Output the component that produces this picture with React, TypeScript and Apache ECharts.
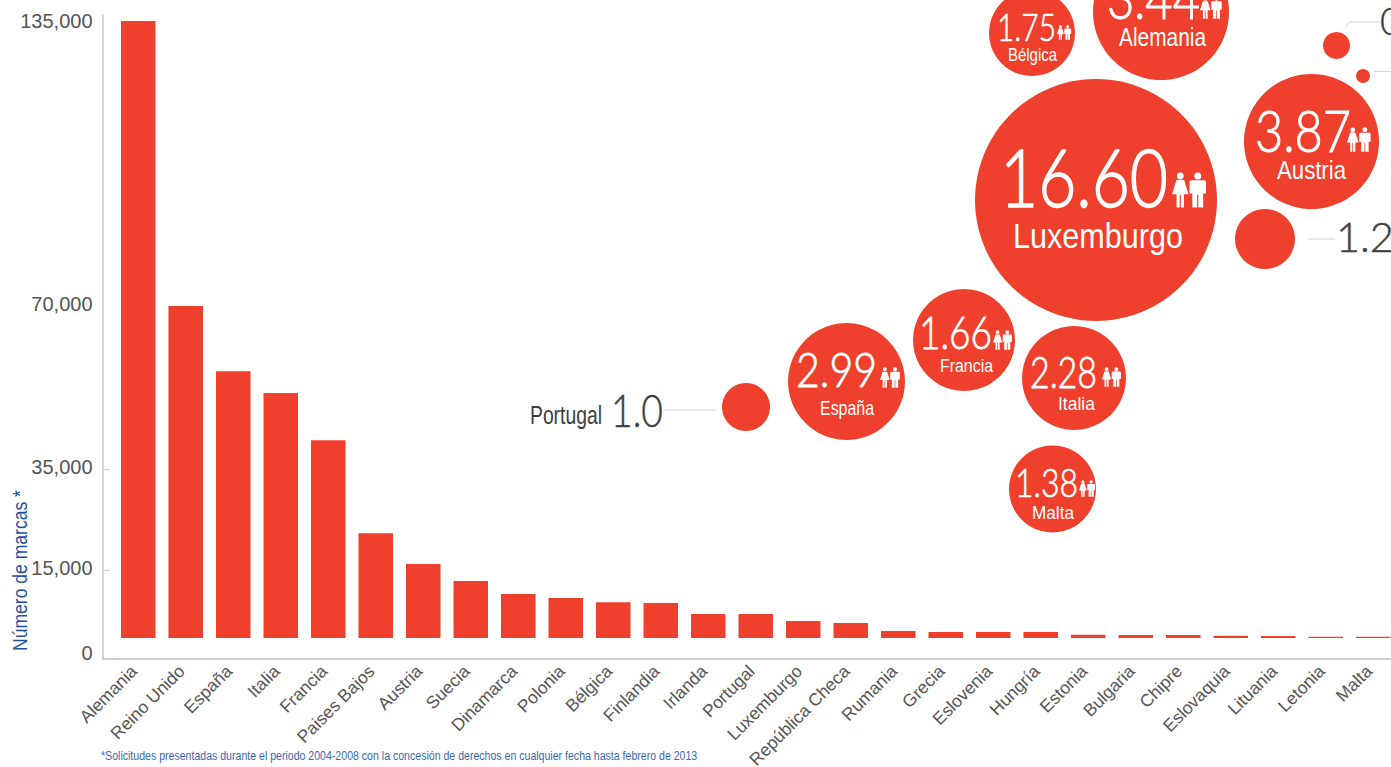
import React, { useEffect, useRef } from "react";
import * as echarts from "echarts";

const categories = ["Alemania","Reino Unido","España","Italia","Francia","Paises Bajos","Austria","Suecia","Dinamarca","Polonia","Bélgica","Finlandia","Irlanda","Portugal","Luxemburgo","República Checa","Rumania","Grecia","Eslovenia","Hungría","Estonia","Bulgaria","Chipre","Eslovaquia","Lituania","Letonia","Malta"];
const marcas = [135000,70000,56000,51300,41200,22300,16200,12600,9700,8800,7900,7700,5300,5300,3750,3300,1540,1300,1300,1300,700,650,650,500,450,300,300];

// The source's vertical axis is not linear: its ticks are unevenly spaced.
const tickValues = [0,15000,35000,70000,135000];
const tickLabels = ["0","15,000","35,000","70,000","135,000"];
const tickHeights = [0,68,169,332,617];
const labelHeights = [-15,70,171,334,617];

const bubbleNames = ["Luxemburgo","Austria","Bélgica","Alemania","España","Francia","Italia","Malta"];
const bubbleValues = ["16.60","3.87","1.75","3.44","2.99","1.66","2.28","1.38"];
const bubbleX = [1096,1311.5,1032,1161,846.5,964,1074,1052.5];
const bubbleY = [200,141.5,33,12,381.5,340,378,489];
const bubbleSize = [242,135,86,136,117,102,104,87];

const plainX = [746,1265,1336.5,1363];
const plainY = [407,239,45.5,76];
const plainSize = [48,60,27,14];

const RED = "#EE402C";
const SANS = "'Liberation Sans',Arial,sans-serif";
const LIGHT = "Lato,'Open Sans',sans-serif";

// Text layout inside each labelled bubble (page px)
const numLayout = [
  { x:1084, y:179, cap:58, w:168 },{ x:1303, y:132.5, cap:41, w:96 },{ x:1026.5, y:27.5, cap:27, w:59 },
  { x:1153.5, y:-1, cap:40, w:93 },{ x:836.5, y:370.5, cap:34, w:81 },{ x:955.5, y:334, cap:32, w:73 },
  { x:1063.5, y:372.5, cap:31, w:67 },{ x:1046.5, y:484, cap:28, w:63 },
];
const nameLayout = [
  { x:1098, y:236, f:36, w:170 },{ x:1311.5, y:171, f:25, w:69 },{ x:1032.5, y:55, f:18, w:49 },
  { x:1162.5, y:37.5, f:25, w:87 },{ x:847, y:408, f:20, w:54 },{ x:966.5, y:365, f:19, w:53 },
  { x:1076.5, y:403, f:19, w:37 },{ x:1053, y:513, f:19, w:42 },
];
const iconLayout = [
  { x:1172, y:172, h:36 },{ x:1347, y:127, h:25 },{ x:1057, y:25, h:15 },{ x:1200, y:-4, h:23 },
  { x:880, y:367, h:21 },{ x:993, y:330, h:20 },{ x:1102, y:367, h:20 },{ x:1079, y:480, h:17 },
];

const PEOPLE = "M4.5 3.6a3.5 3.5 0 1 0 7 0a3.5 3.5 0 1 0 -7 0Z M4 7.8H12L16.5 22.5H11.8V36H8.6V23H7.4V36H4.2V22.5H-0.5Z M22.4 3.6a3.6 3.6 0 1 0 7.2 0a3.6 3.6 0 1 0 -7.2 0Z M19.5 8H32.5Q34.5 8 34.5 10V21.5H31.6V36H26.6V23H25.4V36H20.4V21.5H17.5V10Q17.5 8 19.5 8Z";

function warp(v: number): number {
  for (let i = 1; i < tickValues.length; i++) {
    if (v <= tickValues[i]) {
      const t = (v - tickValues[i - 1]) / (tickValues[i] - tickValues[i - 1]);
      return tickHeights[i - 1] + t * (tickHeights[i] - tickHeights[i - 1]);
    }
  }
  return tickHeights[tickHeights.length - 1];
}

const measureCtx = document.createElement("canvas").getContext("2d")!;
function fit(text: string, font: string, target: number): number {
  measureCtx.font = font;
  return target / measureCtx.measureText(text).width;
}

export default function App() {
  const ref = useRef<HTMLDivElement>(null);
  useEffect(() => {
    document.body.style.margin = "0";
    document.body.style.background = "#fff";
    document.body.style.overflow = "hidden";
    const chart = echarts.init(ref.current!, undefined, { renderer: "svg" });

    const renderBubble = (params: any, api: any) => {
      const i = params.dataIndex;
      const c = api.coord([api.value(0), api.value(1)]);
      const n = numLayout[i];
      const nm = nameLayout[i];
      const ic = iconLayout[i];
      const numFs = n.cap / 0.72;
      const numFont = `300 ${numFs}px Lato`;
      const nameFont = `${nm.f}px 'Liberation Sans'`;
      const np = api.coord([n.x, n.y - n.cap * 0.05]);
      const tp = api.coord([nm.x, nm.y]);
      const ip = api.coord([ic.x, ic.y]);
      return {
        type: "group",
        children: [
          { type: "circle", shape: { cx: c[0], cy: c[1], r: api.value(2) / 2 }, style: { fill: RED } },
          {
            type: "text", x: np[0], y: np[1], scaleX: fit(bubbleValues[i], numFont, n.w),
            style: { text: bubbleValues[i], x: 0, y: 0, align: "center", verticalAlign: "middle", fontSize: numFs, fontFamily: LIGHT, fontWeight: 300, fill: "#fff", stroke: "#fff", lineWidth: n.cap * 0.025 },
          },
          {
            type: "text", x: tp[0], y: tp[1], scaleX: fit(bubbleNames[i], nameFont, nm.w),
            style: { text: bubbleNames[i], x: 0, y: 0, align: "center", verticalAlign: "middle", fontSize: nm.f, fontFamily: SANS, fill: "#fff" },
          },
          {
            type: "path",
            shape: { pathData: PEOPLE, x: ip[0], y: ip[1], width: (ic.h * 34) / 36, height: ic.h },
            style: { fill: "#fff" },
          },
        ],
      };
    };

    const renderPlain = (_: any, api: any) => {
      const c = api.coord([api.value(0), api.value(1)]);
      return { type: "circle", shape: { cx: c[0], cy: c[1], r: api.value(2) / 2 }, style: { fill: RED } };
    };

    const bigNum = (text: string, x: number, y: number, cap: number, w: number) => ({
      type: "text", x, y, scaleX: fit(text, `300 ${cap / 0.72}px Lato`, w), silent: true,
      style: { text, x: 0, y: 0, align: "left", verticalAlign: "middle", fontSize: cap / 0.72, fontFamily: LIGHT, fontWeight: 300, fill: "#3d3f42", stroke: "#3d3f42", lineWidth: cap * 0.015 },
    });
    const leader = (x1: number, y1: number, x2: number, y2: number) => ({
      type: "line", shape: { x1, y1, x2, y2 }, style: { stroke: "#d4d4d4", lineWidth: 1 }, silent: true,
    });
    const note = "*Solicitudes presentadas durante el periodo 2004-2008 con la concesión de derechos en cualquier fecha hasta febrero de 2013";
    const axisTitle = "Número de marcas *";

    chart.setOption({
      animation: false,
      backgroundColor: "#fff",
      grid: [
        { left: 114.5, top: 15, width: 1282.5, height: 644, outerBoundsMode: "none" },
        { left: 0, top: 0, width: 1391, height: 767, outerBoundsMode: "none" },
      ],
      xAxis: [
        {
          type: "category", gridIndex: 0, data: categories,
          axisLine: { onZero: false, lineStyle: { color: "#bdbdbd", width: 1.5 } },
          axisTick: { show: false },
          axisLabel: { interval: 0, rotate: 45, margin: 5, padding: [0, 6, 0, 0], fontSize: 17.5, fontFamily: SANS, color: "#555" },
        },
        { type: "value", gridIndex: 1, min: 0, max: 1391, show: false },
      ],
      yAxis: [
        {
          type: "value", gridIndex: 0, min: -21, max: 623, offset: 12, position: "left",
          splitLine: { show: false },
          axisLine: { show: true, lineStyle: { color: "#c4c4c4", width: 1.5 } },
          axisTick: { show: true, inside: true, length: 7, customValues: [warp(15000), warp(35000)], lineStyle: { color: "#cfcfcf" } },
          axisLabel: {
            customValues: labelHeights, margin: 10, fontSize: 20, fontFamily: SANS, color: "#555",
            formatter: (v: number) => tickLabels[labelHeights.indexOf(v)] ?? "",
          },
        },
        { type: "value", gridIndex: 1, min: 0, max: 767, inverse: true, show: false },
      ],
      series: [
        {
          type: "bar", xAxisIndex: 0, yAxisIndex: 0, barWidth: 34.5,
          data: marcas.map((v) => warp(v)),
          itemStyle: { color: RED },
        },
        {
          type: "custom", xAxisIndex: 1, yAxisIndex: 1, clip: false,
          renderItem: renderBubble,
          encode: { x: 0, y: 1 },
          data: bubbleX.map((x, i) => [x, bubbleY[i], bubbleSize[i]]),
        },
        {
          type: "custom", xAxisIndex: 1, yAxisIndex: 1, clip: false,
          renderItem: renderPlain,
          encode: { x: 0, y: 1 },
          data: plainX.map((x, i) => [x, plainY[i], plainSize[i]]),
        },
      ],
      graphic: [
        {
          type: "text", x: 19, y: 570.5, rotation: Math.PI / 2, scaleX: fit(axisTitle, "21px 'Liberation Sans'", 161), silent: true,
          style: { text: axisTitle, x: 0, y: 0, align: "center", verticalAlign: "middle", fontSize: 21, fontFamily: SANS, fill: "#1f4f9c" },
        },
        {
          type: "text", x: 101, y: 756, scaleX: fit(note, "13.5px 'Liberation Sans'", 597), silent: true,
          style: { text: note, x: 0, y: 0, align: "left", verticalAlign: "middle", fontSize: 13.5, fontFamily: SANS, fill: "#3a68ad" },
        },
        { type: "line", shape: { x1: 102, y1: 659, x2: 115, y2: 659 }, style: { stroke: "#bdbdbd", lineWidth: 1.5 }, silent: true },
        {
          type: "text", x: 530, y: 416, scaleX: fit("Portugal", "25px 'Liberation Sans'", 72), silent: true,
          style: { text: "Portugal", x: 0, y: 0, align: "left", verticalAlign: "middle", fontSize: 25, fontFamily: SANS, fill: "#3d3f42" },
        },
        bigNum("1.0", 611, 409, 33, 52),
        leader(664, 410, 716, 410),
        bigNum("1.20", 1336, 235.5, 30, 82),
        leader(1308, 239, 1335, 239),
        bigNum("0", 1380, 21, 27, 22),
        { type: "polyline", shape: { points: [[1345, 27], [1350, 22], [1380, 22]] }, style: { stroke: "#d4d4d4", lineWidth: 1, fill: "none" }, silent: true },
        leader(1374, 71.5, 1391, 71.5),
      ],
    });
    return () => chart.dispose();
  }, []);
  return (
    <div style={{ width: 1391, height: 767, overflow: "hidden" }}>
      <div ref={ref} style={{ width: 1420, height: 767 }} />
    </div>
  );
}
